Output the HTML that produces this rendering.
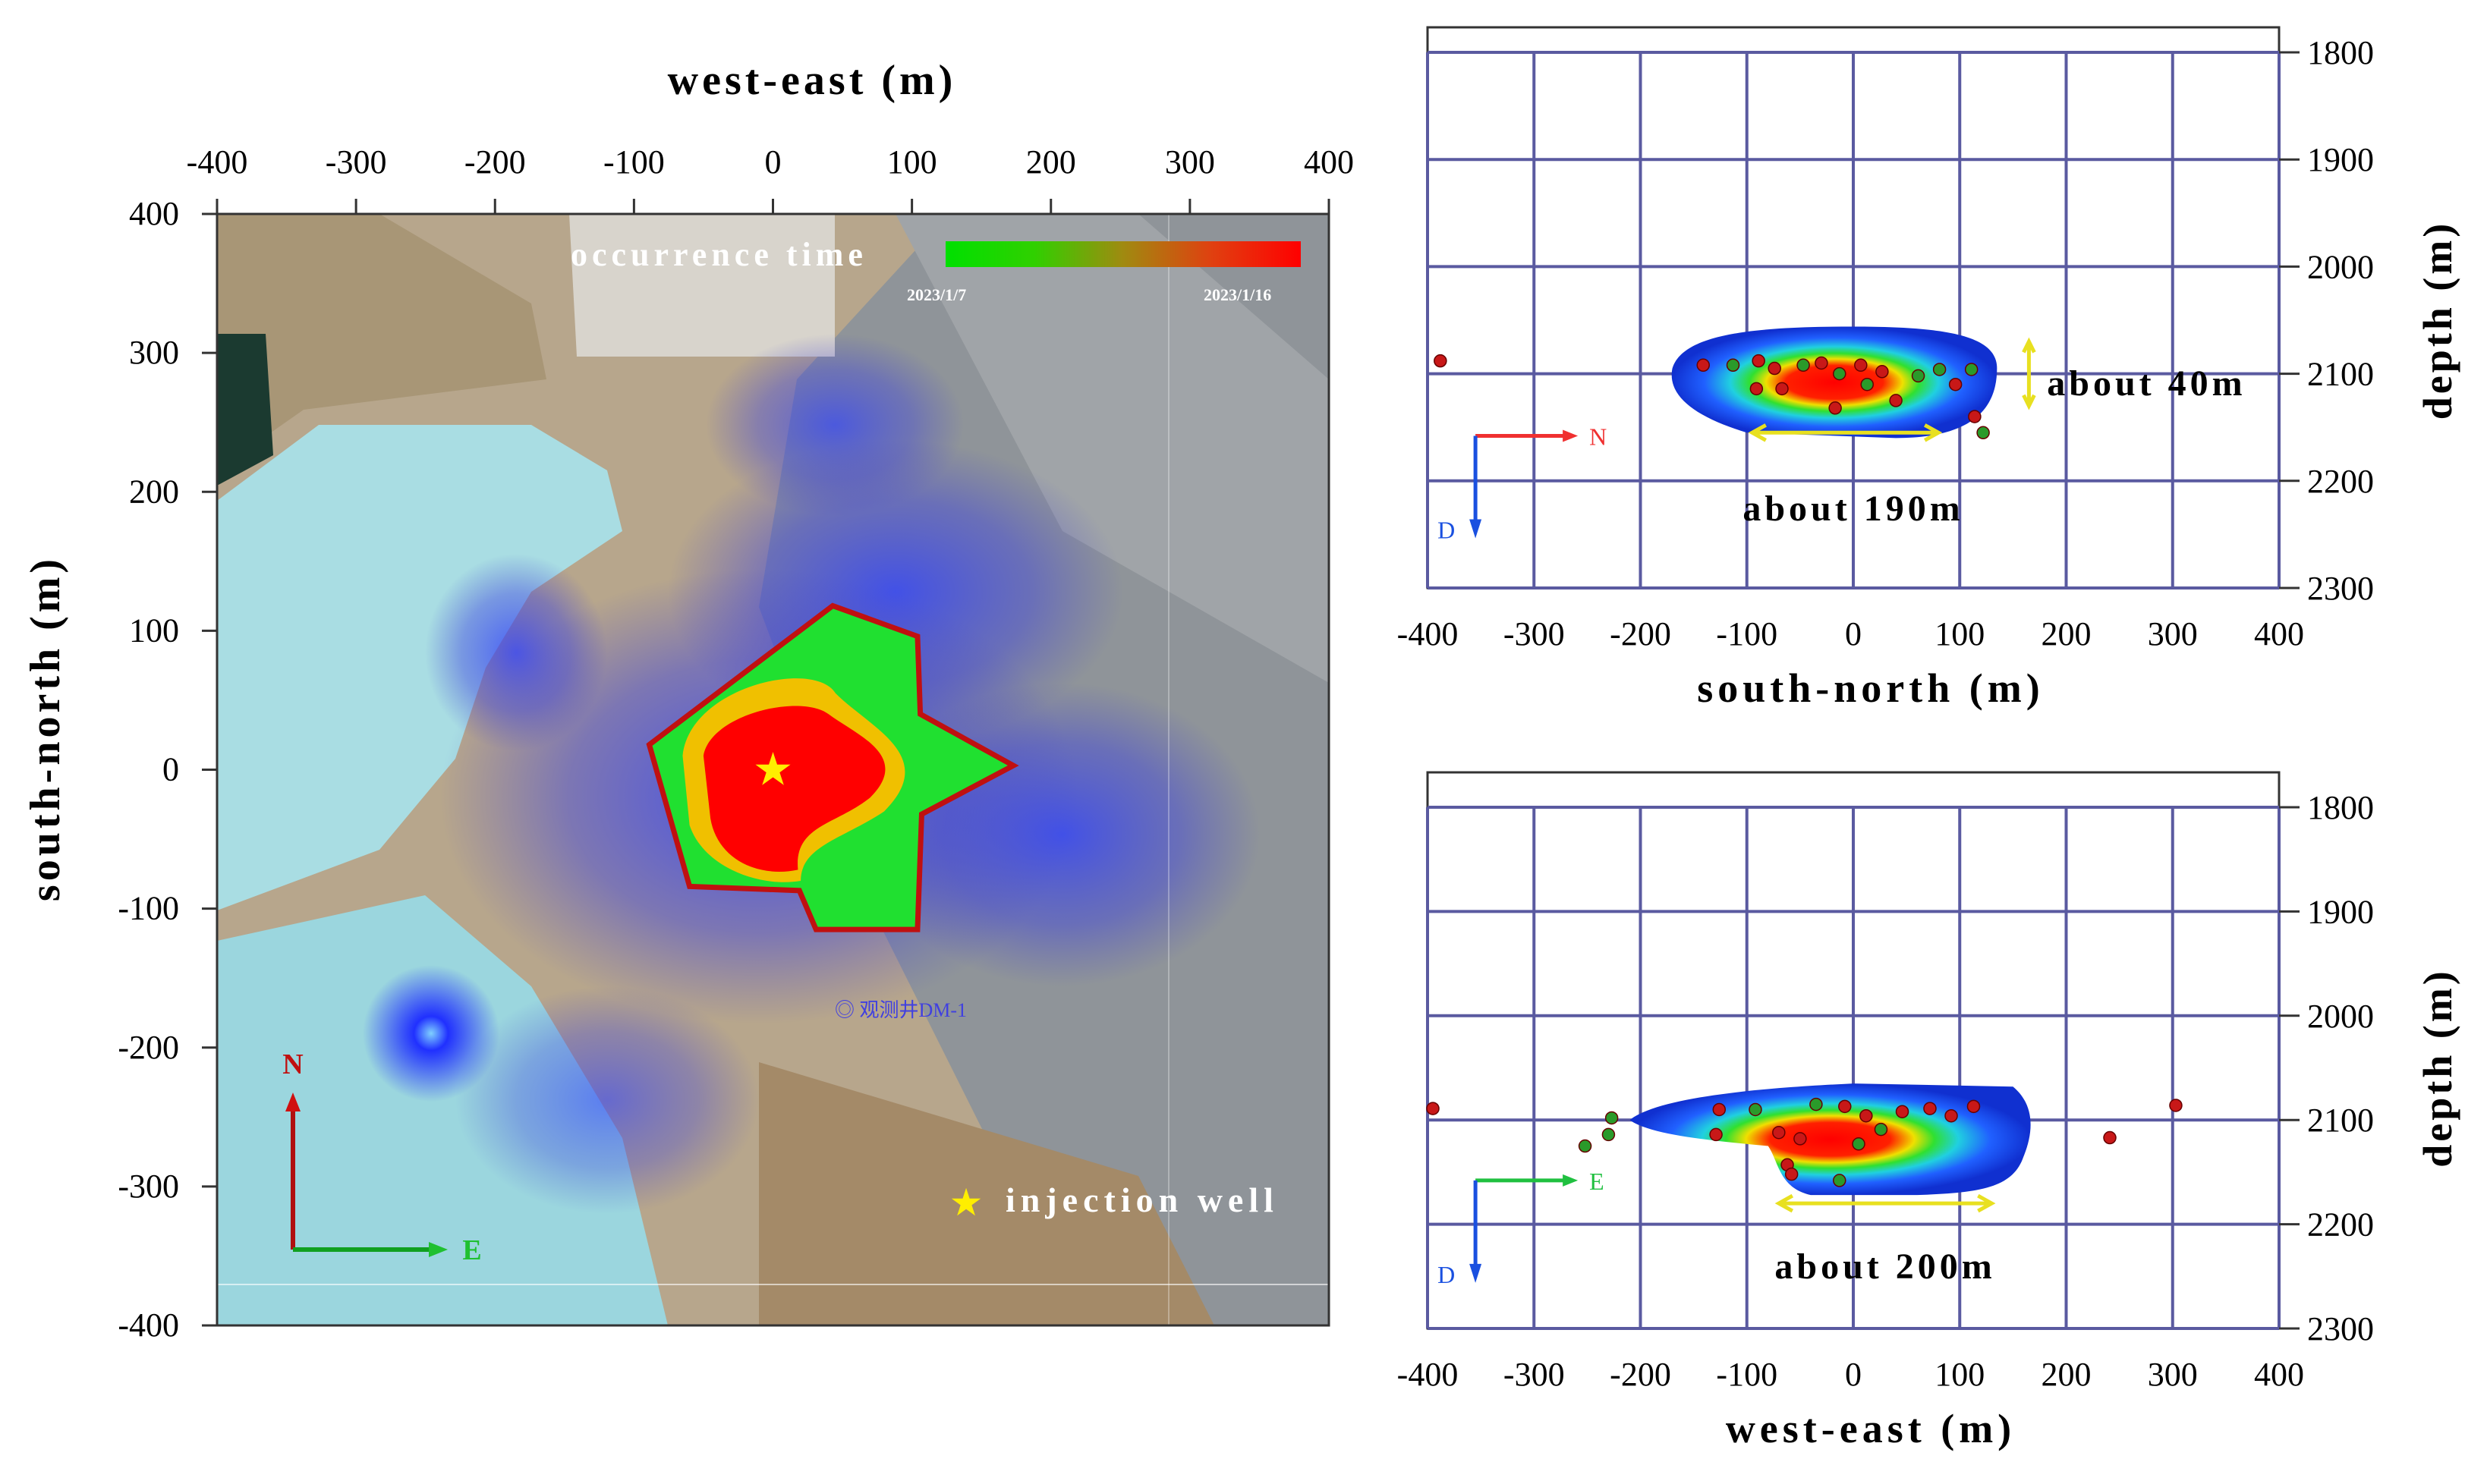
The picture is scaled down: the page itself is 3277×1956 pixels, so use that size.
<!DOCTYPE html>
<html><head><meta charset="utf-8"><style>
html,body{margin:0;padding:0;background:#fff}
svg{display:block}
text{font-family:"Liberation Serif",serif}
</style></head><body>
<svg id="fig" width="3277" height="1956" viewBox="0 0 3277 1956" xmlns="http://www.w3.org/2000/svg">
<defs>
<radialGradient id="glow" cx="50%" cy="50%" r="50%"><stop offset="0" stop-color="#2a3cff" stop-opacity="0.95"/><stop offset="0.6" stop-color="#3a40e0" stop-opacity="0.55"/><stop offset="1" stop-color="#4040d0" stop-opacity="0"/></radialGradient>
<radialGradient id="glowSmall" cx="50%" cy="50%" r="50%"><stop offset="0" stop-color="#7fd0ff"/><stop offset="0.25" stop-color="#2030ff"/><stop offset="1" stop-color="#2030ff" stop-opacity="0"/></radialGradient>
<linearGradient id="cbar" x1="0" x2="1"><stop offset="0" stop-color="#00e000"/><stop offset="0.25" stop-color="#30d000"/><stop offset="0.5" stop-color="#a08a10"/><stop offset="0.75" stop-color="#e04010"/><stop offset="1" stop-color="#ff0000"/></linearGradient>
<radialGradient id="blob" cx="50%" cy="50%" r="50%"><stop offset="0" stop-color="#ff0000"/><stop offset="0.3" stop-color="#ff2000"/><stop offset="0.42" stop-color="#f0e000"/><stop offset="0.52" stop-color="#30e030"/><stop offset="0.64" stop-color="#20d0e0"/><stop offset="0.8" stop-color="#2060ff"/><stop offset="1" stop-color="#1030d0"/></radialGradient>
<clipPath id="mapclip"><rect x="286" y="282" width="1465" height="1465"/></clipPath>
</defs>

<!-- LEFT MAP -->
<g clip-path="url(#mapclip)">
<rect x="286" y="282" width="1465" height="1465" fill="#b7a68c"/>
<polygon points="1250,282 1751,282 1751,1747 1500,1747 1300,1500 1150,1200 1000,800 1050,500" fill="#8f9499"/>
<polygon points="1180,282 1500,282 1751,500 1751,900 1400,700" fill="#a0a4a8"/>
<polygon points="750,282 1100,282 1100,470 760,470" fill="#d8d4cc"/>
<polygon points="286,660 420,560 700,560 800,620 820,700 700,780 640,880 600,1000 500,1120 286,1200" fill="#a9dde3"/>
<polygon points="286,1240 560,1180 700,1300 820,1500 880,1747 286,1747" fill="#9bd6de"/>
<polygon points="286,282 500,282 700,400 720,500 560,520 400,540 286,620" fill="#a89676"/>
<polygon points="286,440 350,440 360,600 286,640" fill="#1b3a30"/>
<polygon points="1000,1400 1500,1550 1600,1747 1000,1747" fill="#a48a68"/>
<ellipse cx="1100" cy="560" rx="170" ry="120" fill="url(#glow)" opacity="0.7"/>
<ellipse cx="1180" cy="780" rx="300" ry="200" fill="url(#glow)" opacity="0.8"/>
<ellipse cx="1000" cy="1050" rx="420" ry="300" fill="url(#glow)" opacity="0.85"/>
<ellipse cx="1400" cy="1100" rx="260" ry="200" fill="url(#glow)" opacity="0.8"/>
<ellipse cx="680" cy="860" rx="120" ry="130" fill="url(#glow)" opacity="0.8"/>
<ellipse cx="800" cy="1450" rx="200" ry="150" fill="url(#glow)" opacity="0.6"/>
<ellipse cx="568" cy="1362" rx="90" ry="90" fill="url(#glowSmall)"/>
<line x1="286" y1="1693" x2="1751" y2="1693" stroke="#fff" stroke-opacity="0.6" stroke-width="2"/>
<line x1="1540" y1="282" x2="1540" y2="1747" stroke="#fff" stroke-opacity="0.3" stroke-width="2"/>
<g id="poly"></g>
<text x="1100" y="1340" font-family="Liberation Sans,sans-serif" font-size="26" fill="#4040e0">◎ 观测井DM-1</text>
</g>
<rect x="286" y="282" width="1465" height="1465" fill="none" stroke="#333" stroke-width="3"/>
<g id="mapaxes"></g>
<text x="1070" y="124" text-anchor="middle" font-size="56" font-weight="bold" letter-spacing="5">west-east (m)</text>
<text transform="translate(78,960) rotate(-90)" text-anchor="middle" font-size="56" font-weight="bold" letter-spacing="5">south-north (m)</text>
<text x="752" y="350" font-size="44" font-weight="bold" fill="#fff" letter-spacing="6">occurrence time</text>
<rect x="1246" y="318" width="468" height="34" fill="url(#cbar)"/>
<text x="1195" y="396" font-size="22" font-weight="bold" fill="#fff">2023/1/7</text>
<text x="1586" y="396" font-size="22" font-weight="bold" fill="#fff">2023/1/16</text>
<text x="1273" y="1602" text-anchor="middle" font-size="50" fill="#ffee00">★</text>
<text x="1325" y="1597" font-size="46" font-weight="bold" fill="#fff" letter-spacing="7">injection well</text>
<g>
<line x1="386" y1="1647" x2="386" y2="1460" stroke="#b01010" stroke-width="6"/>
<polygon points="376,1465 396,1465 386,1440" fill="#d01010"/>
<line x1="386" y1="1647" x2="570" y2="1647" stroke="#10a020" stroke-width="6"/>
<polygon points="565,1637 565,1657 590,1647" fill="#20c030"/>
<text x="386" y="1415" text-anchor="middle" font-family="Liberation Sans,sans-serif" font-size="38" font-weight="bold" fill="#c01010">N</text>
<text x="622" y="1660" text-anchor="middle" font-family="Liberation Sans,sans-serif" font-size="38" font-weight="bold" fill="#20c030">E</text>
</g>

<!-- RIGHT PANELS -->
<g id="panelTop"></g>
<g id="panelBot"></g>
</svg>
<script>
const NS="http://www.w3.org/2000/svg";
function mk(p,tag,attrs,txt){const e=document.createElementNS(NS,tag);for(const k in attrs)e.setAttribute(k,attrs[k]);if(txt!==undefined)e.textContent=txt;p.appendChild(e);return e;}

// ---- map data ----
const mapTicks=[-400,-300,-200,-100,0,100,200,300,400];
const polyX=[-89,43,104,106,173,107,104,31,19,-60];
const polyY=[18,118,96,40,3,-32,-115,-115,-87,-84];
const mx=v=>1018.5+v*1465/800;
const my=v=>1014.5-v*1465/800;

const poly=document.getElementById('poly');
const pts=polyX.map((x,i)=>mx(x)+','+my(polyY[i])).join(' ');
let e=mk(poly,'polygon',{points:pts,fill:'#20e030',stroke:'#c01010','stroke-width':7});


e=mk(poly,'path',{d:`M${mx(-65)},${my(10)} C${mx(-60)},${my(60)} ${mx(30)},${my(80)} ${mx(45)},${my(55)} C${mx(70)},${my(30)} ${mx(120)},${my(10)} ${mx(80)},${my(-30)} C${mx(50)},${my(-50)} ${mx(20)},${my(-55)} ${mx(20)},${my(-80)} C${mx(-10)},${my(-85)} ${mx(-50)},${my(-70)} ${mx(-60)},${my(-40)} Z`,fill:'#f0c000'});


e=mk(poly,'path',{d:`M${mx(-50)},${my(10)} C${mx(-45)},${my(40)} ${mx(20)},${my(55)} ${mx(40)},${my(40)} C${mx(60)},${my(25)} ${mx(100)},${my(10)} ${mx(70)},${my(-20)} C${mx(45)},${my(-40)} ${mx(15)},${my(-40)} ${mx(18)},${my(-72)} C${mx(-10)},${my(-78)} ${mx(-40)},${my(-65)} ${mx(-45)},${my(-35)} Z`,fill:'#ff0000'});


e=mk(poly,'text',{x:mx(0),y:my(0)+20,'text-anchor':'middle','font-size':60,fill:'#ffee00'},'★');



const ma=document.getElementById('mapaxes');
mapTicks.forEach(t=>{
 let l=mk(ma,'line',{x1:mx(t),x2:mx(t),y1:282,y2:262,stroke:'#333','stroke-width':3});
 
 
 let tx=mk(ma,'text',{x:mx(t),y:228,'text-anchor':'middle','font-size':44},String(t));
 
 
 l=mk(ma,'line',{x1:286,x2:266,y1:my(t),y2:my(t),stroke:'#333','stroke-width':3});
 
 
 tx=mk(ma,'text',{x:236,y:my(t)+14,'text-anchor':'end','font-size':44},String(t));
 
 
});

// ---- cross-section data ----
const hTicks=[-400,-300,-200,-100,0,100,200,300,400];
const dTicks=[1800,1900,2000,2100,2200,2300];
const snX=[-388,-141,-113,-89,-91,-74,-47,-30,-13,7,13,27,40,61,81,111,96,114,122,-17,-67];
const snD=[2088,2092,2092,2088,2114,2095,2092,2090,2100,2092,2110,2098,2125,2102,2096,2096,2110,2140,2155,2132,2114];
const snC=['r','r','g','r','r','r','g','r','g','r','g','r','r','g','g','g','r','r','g','r','r'];
const weX=[-395,-227,-230,-252,-126,-129,-92,-70,-62,-58,-50,-35,-13,-8,12,26,46,72,92,113,241,303,5];
const weD=[2089,2098,2114,2125,2090,2114,2090,2112,2143,2152,2118,2085,2158,2087,2096,2109,2092,2089,2096,2087,2117,2086,2123];
const weC=['r','g','g','g','r','r','g','r','r','r','r','g','g','r','r','g','r','r','r','r','r','r','g'];

function panel(g,top,y0,y1,xTitle,xs,ds,cs,hor,horColor,blobPath,arrow,arrowLabel,extra){
 const X=v=>1881+(v+400)/800*1122;
 const Y=d=>y0+(d-1800)/500*(y1-y0);
 let r=mk(g,'rect',{x:1881,y:top,width:1122,height:y1-top,fill:'#fff',stroke:'#333','stroke-width':3});
 
 
 hTicks.forEach(t=>{
  let l=mk(g,'line',{x1:X(t),x2:X(t),y1:y0,y2:y1,stroke:'#5a5aa0','stroke-width':4});
  
  
  let tx=mk(g,'text',{x:X(t),y:y1+75,'text-anchor':'middle','font-size':44},String(t));
  
  
 });
 dTicks.forEach(t=>{
  let l=mk(g,'line',{x1:1881,x2:3003,y1:Y(t),y2:Y(t),stroke:'#5a5aa0','stroke-width':4});
  
  
  l=mk(g,'line',{x1:3003,x2:3030,y1:Y(t),y2:Y(t),stroke:'#333','stroke-width':3});
  
  
  let tx=mk(g,'text',{x:3040,y:Y(t)+15,'font-size':44},String(t));
  
  
 });
 let b=mk(g,'path',{d:blobPath(X,Y),fill:'url(#blob)'});
 
 
 xs.forEach((x,i)=>{
  const c=mk(g,'circle',{cx:X(x),cy:Y(ds[i]),r:8,fill:cs[i]==='r'?'#c81818':'#2a9a2a',stroke:'#600','stroke-width':1.5});
  
  
 });
 let ht=mk(g,'text',{x:X(hor[0]),y:Y(hor[1]),'text-anchor':'middle','font-size':48,'font-weight':'bold','letter-spacing':5},hor[2]);
 
 
 let ar=mk(g,'path',{d:`M${X(arrow[0])},${Y(arrow[2])} L${X(arrow[1])},${Y(arrow[2])} M${X(arrow[0])+18},${Y(arrow[2])-10} L${X(arrow[0])},${Y(arrow[2])} L${X(arrow[0])+18},${Y(arrow[2])+10} M${X(arrow[1])-18},${Y(arrow[2])-10} L${X(arrow[1])},${Y(arrow[2])} L${X(arrow[1])-18},${Y(arrow[2])+10}`,stroke:'#e8e020','stroke-width':5,fill:'none'});
 
 
 // compass
 const cx=X(-355), cy=Y(2158);
 let c1=mk(g,'path',{d:`M${cx},${cy} L${cx+120},${cy}`,stroke:horColor,'stroke-width':5});
 
 
 mk(g,'polygon',{points:`${cx+115},${cy-8} ${cx+115},${cy+8} ${cx+135},${cy}`,fill:horColor});
 let lt=mk(g,'text',{x:cx+150,y:cy+12,'font-family':'Liberation Sans,sans-serif','font-size':32,fill:horColor},arrowLabel);
 
 
 let c2=mk(g,'path',{d:`M${cx},${cy} L${cx},${cy+115}`,stroke:'#1a50e0','stroke-width':5});
 
 
 mk(g,'polygon',{points:`${cx-8},${cy+110} ${cx+8},${cy+110} ${cx},${cy+135}`,fill:'#1a50e0'});
 let dt=mk(g,'text',{x:cx-50,y:cy+135,'font-family':'Liberation Sans,sans-serif','font-size':32,fill:'#1a50e0'},'D');
 
 
 let xt=mk(g,'text',{x:2465,y:y1+150,'text-anchor':'middle','font-size':54,'font-weight':'bold','letter-spacing':6},xTitle);
 
 
 let yt=mk(g,'text',{transform:`translate(3230,${(y0+y1)/2}) rotate(-90)`,'text-anchor':'middle','font-size':54,'font-weight':'bold','letter-spacing':4},'depth (m)');
 
 
 if(extra)extra(g,X,Y);
}

panel(document.getElementById('panelTop'),36,69,775,'south-north (m)',snX,snD,snC,[0,2237,'about 190m'],'#f03030',
 (X,Y)=>`M${X(-170)},${Y(2095)} C${X(-160)},${Y(2062)} ${X(-90)},${Y(2056)} ${X(0)},${Y(2056)} C${X(90)},${Y(2056)} ${X(135)},${Y(2065)} ${X(135)},${Y(2095)} C${X(135)},${Y(2130)} ${X(115)},${Y(2160)} ${X(40)},${Y(2160)} L${X(-100)},${Y(2155)} C${X(-150)},${Y(2140)} ${X(-175)},${Y(2120)} ${X(-170)},${Y(2095)} Z`,
 [-95,80,2155],'N',
 (g,X,Y)=>{
  let a=mk(g,'path',{d:`M${X(165)},${Y(2070)} L${X(165)},${Y(2130)} M${X(160)},${Y(2080)} L${X(165)},${Y(2070)} L${X(170)},${Y(2080)} M${X(160)},${Y(2120)} L${X(165)},${Y(2130)} L${X(170)},${Y(2120)}`,stroke:'#e8e020','stroke-width':5,fill:'none'});
  
  
  let t=mk(g,'text',{x:X(182),y:Y(2120),'font-size':48,'font-weight':'bold','letter-spacing':5},'about 40m');
  
  
 });

panel(document.getElementById('panelBot'),1018,1064,1751,'west-east (m)',weX,weD,weC,[30,2252,'about 200m'],'#20c040',
 (X,Y)=>`M${X(-210)},${Y(2100)} C${X(-180)},${Y(2075)} ${X(-60)},${Y(2068)} ${X(0)},${Y(2065)} L${X(150)},${Y(2068)} C${X(170)},${Y(2085)} ${X(170)},${Y(2110)} ${X(160)},${Y(2135)} C${X(150)},${Y(2165)} ${X(120)},${Y(2170)} ${X(60)},${Y(2172)} L${X(-40)},${Y(2172)} C${X(-70)},${Y(2165)} ${X(-70)},${Y(2140)} ${X(-80)},${Y(2125)} C${X(-130)},${Y(2120)} ${X(-190)},${Y(2115)} ${X(-210)},${Y(2100)} Z`,
 [-70,130,2180],'E',null);
</script>
</body></html>
